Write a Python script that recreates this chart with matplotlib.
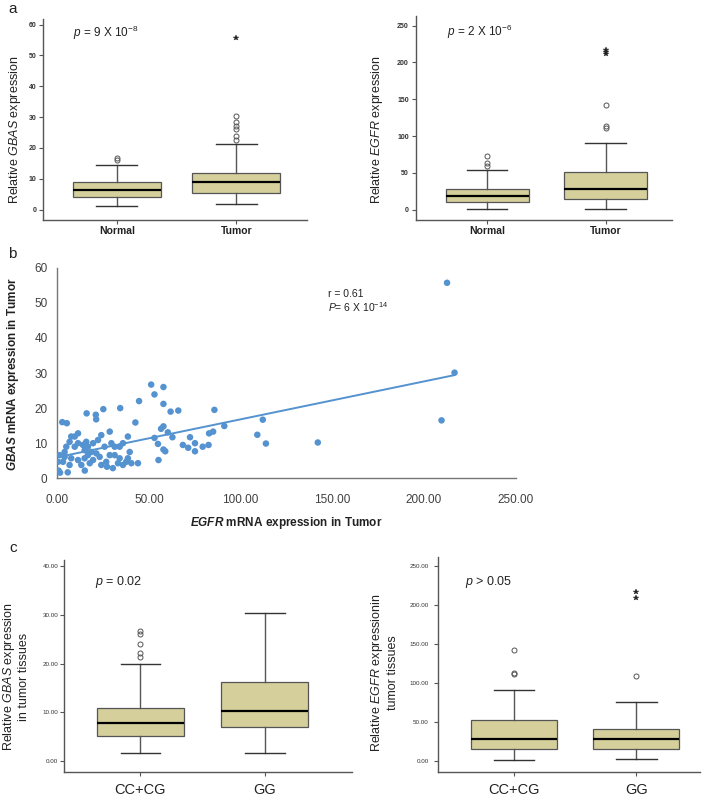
import matplotlib
matplotlib.use('Agg')
import matplotlib.pyplot as plt
import numpy as np

plt.rcParams['font.family'] = ['Liberation Sans', 'DejaVu Sans']
plt.rcParams['mathtext.fontset'] = 'custom'
plt.rcParams['mathtext.rm'] = 'Liberation Sans'
plt.rcParams['mathtext.it'] = 'Liberation Sans:italic'
plt.rcParams['mathtext.bf'] = 'Liberation Sans:bold'
try:
    plt.rcParams['mathtext.bfit'] = 'Liberation Sans:bold:italic'
except KeyError:
    pass

# ---------------- data ----------------
# panel a (left): GBAS, Normal vs Tumor  [whislo, q1, med, q3, whishi]
a_groups = ['Normal', 'Tumor']
gbas_stats = [[1.0, 4.2, 6.2, 8.9, 14.4],
              [1.7, 5.5, 8.8, 11.8, 21.4]]
gbas_outliers = [[16.2, 16.6], [22.4, 24.0, 26.2, 27.1, 28.5, 30.3]]
gbas_extremes = [[], [55.6]]

# panel a (right): EGFR, Normal vs Tumor
egfr_stats = [[0.9, 10.0, 19.0, 28.0, 53.4],
              [1.0, 15.0, 28.0, 51.6, 91.0]]
egfr_outliers = [[60.0, 63.0, 73.4], [110.5, 113.7, 141.8]]
egfr_extremes = [[], [211.0, 214.0, 217.0]]

# panel b: scatter EGFR (x) vs GBAS (y) in tumor
egfr_x = [212.6, 216.7, 209.6, 142.1, 112.1, 109.1, 113.8, 91.1, 85.7, 85.0,
          82.8, 82.5, 79.3, 75.1, 75.1, 72.4, 71.4, 68.5, 66.0, 61.8,
          62.8, 60.3, 57.9, 51.2, 53.0, 57.9, 44.6, 42.6, 57.9, 56.6,
          53.0, 54.9, 57.9, 58.9, 55.2, 34.3, 25.1, 21.0, 21.2, 16.0,
          2.7, 5.2,
          7.6, 9.5, 6.7, 4.9, 9.5, 11.3, 14.0, 16.7, 14.9, 16.7,
          18.6, 21.3, 23.1, 19.5, 14.9, 11.3, 7.6, 4.0, 3.1, 6.7,
          13.1, 17.7, 24.0, 26.7, 28.6, 31.3, 34.0, 33.1, 35.8, 37.6,
          38.5, 39.5, 40.4, 44.0, 25.8, 29.5, 31.3, 34.0, 35.8, 38.5,
          28.6, 24.0, 22.2, 19.5, 11.3, 4.0, 1.3, 0.4, 15.8,
          0.7, 1.5, 5.7, 15.0, 27.1, 30.3]
gbas_y = [55.7, 30.1, 16.5, 10.2, 16.7, 12.4, 9.9, 14.9, 19.5, 13.3,
          12.8, 9.5, 9.0, 10.0, 7.7, 11.7, 8.7, 9.5, 19.3, 19.0,
          11.7, 13.1, 26.0, 26.7, 23.9, 21.2, 22.0, 15.9, 14.8, 14.1,
          11.5, 9.8, 8.2, 7.7, 5.2, 20.0, 19.7, 18.1, 16.8, 18.5,
          16.0, 15.7,
          11.9, 11.9, 10.4, 9.0, 9.0, 10.0, 9.5, 9.0, 8.0, 6.6,
          7.5, 7.1, 6.1, 5.2, 5.7, 5.2, 5.7, 6.1, 4.7, 3.8,
          3.8, 4.3, 3.8, 4.7, 6.6, 6.6, 5.7, 4.3, 3.8, 4.7,
          5.7, 7.5, 4.3, 4.3, 9.0, 10.0, 9.0, 9.0, 10.0, 11.9,
          13.3, 12.3, 10.9, 10.0, 12.8, 7.5, 6.6, 4.7, 10.4,
          2.2, 1.6, 1.7, 2.2, 3.3, 2.9]
trend_slope = 0.108
trend_intercept = 6.0

# panel c (left): GBAS by genotype
c_groups = ['CC+CG', 'GG']
geno_gbas_stats = [[1.7, 5.1, 7.8, 11.0, 19.9],
                   [1.7, 7.0, 10.3, 16.3, 30.3]]
geno_gbas_outliers = [[21.4, 22.1, 24.0, 26.0, 26.6], []]
geno_gbas_extremes = [[], []]

# panel c (right): EGFR by genotype
geno_egfr_stats = [[0.9, 14.6, 27.8, 52.2, 90.8],
                   [2.1, 15.4, 27.4, 41.1, 74.9]]
geno_egfr_outliers = [[111.3, 113.0, 142.1], [109.2]]
geno_egfr_extremes = [[], [209.3, 217.0]]

# ---------------- figure ----------------
W, H = 709, 798
fig = plt.figure(figsize=(W / 100, H / 100), dpi=100)


def fx(px):
    return px / W


def fy(py):
    return 1 - py / H


def add_ax(x0, y_top, x1, y_bot):
    return fig.add_axes([fx(x0), fy(y_bot), fx(x1) - fx(x0), (y_bot - y_top) / H])


BOX_FC = '#D4CF9B'
EDGE = '#555555'


def draw_box(ax, stats, outs, exts, width=0.70, capw=0.34):
    st = [dict(whislo=s[0], q1=s[1], med=s[2], q3=s[3], whishi=s[4], fliers=[])
          for s in stats]
    pos = list(range(1, len(stats) + 1))
    ax.bxp(st, positions=pos, widths=width, capwidths=capw, patch_artist=True,
           showfliers=False,
           boxprops=dict(facecolor=BOX_FC, edgecolor=EDGE, linewidth=0.9),
           medianprops=dict(color='black', linewidth=1.6),
           whiskerprops=dict(color=EDGE, linewidth=1.0),
           capprops=dict(color='#333333', linewidth=1.0))
    for p, o in zip(pos, outs):
        if o:
            ax.plot([p] * len(o), o, 'o', mfc='none', mec='#555555', ms=3.6, mew=0.7)
    for p, e in zip(pos, exts):
        if e:
            ax.plot([p] * len(e), e, '*', color='#222222', ms=3.8, mew=0.3)
    for s in ['top', 'right']:
        ax.spines[s].set_visible(False)
    for s in ['left', 'bottom']:
        ax.spines[s].set_color(EDGE)
        ax.spines[s].set_linewidth(1.0)
    ax.tick_params(colors=EDGE, length=3, width=0.8)


# ---- panel a left ----
ax1 = add_ax(43.3, 19.3, 306.7, 220)
draw_box(ax1, gbas_stats, gbas_outliers, gbas_extremes, width=0.74, capw=0.34)
ax1.set_xlim(0.385, 2.59)
ax1.set_ylim(-3.4, 61.7)
ax1.set_yticks(np.arange(0, 61, 10))
ax1.set_xticks([1, 2])
ax1.set_xticklabels(a_groups, fontsize=7.5, fontweight='bold', color='#222222')
ax1.tick_params(axis='y', labelsize=5, labelcolor='#333333', pad=2)
ax1.tick_params(axis='x', pad=1.5)
for lab in ax1.get_yticklabels():
    lab.set_fontweight('bold')

# ---- panel a right ----
ax2 = add_ax(415.7, 16, 671.7, 220)
draw_box(ax2, egfr_stats, egfr_outliers, egfr_extremes, width=0.70, capw=0.34)
ax2.set_xlim(0.394, 2.56)
ax2.set_ylim(-14, 263)
ax2.set_yticks(np.arange(0, 251, 50))
ax2.set_xticks([1, 2])
ax2.set_xticklabels(a_groups, fontsize=7.5, fontweight='bold', color='#222222')
ax2.tick_params(axis='y', labelsize=5, labelcolor='#333333', pad=2)
ax2.tick_params(axis='x', pad=1.5)
for lab in ax2.get_yticklabels():
    lab.set_fontweight('bold')

# ---- panel b ----
ax3 = add_ax(57.3, 267.7, 515.6, 478.3)
DOT = '#5492D0'
ax3.scatter(egfr_x, gbas_y, s=22, color=DOT, edgecolors='none', zorder=3)
xx = np.array([min(egfr_x), max(egfr_x)])
ax3.plot(xx, trend_intercept + trend_slope * xx, color=DOT, linewidth=1.4, zorder=2)
ax3.set_xlim(0, 250)
ax3.set_ylim(0, 60)
ax3.set_xticks(np.arange(0, 251, 50))
ax3.set_xticklabels(['%.2f' % v for v in np.arange(0, 251, 50)])
ax3.set_yticks(np.arange(0, 61, 10))
for s in ['top', 'right']:
    ax3.spines[s].set_visible(False)
for s in ['left', 'bottom']:
    ax3.spines[s].set_color('#777777')
    ax3.spines[s].set_linewidth(1.0)
ax3.spines['bottom'].set_clip_on(False)
ax3.tick_params(length=0, labelsize=8.5, labelcolor='#404040')
ax3.tick_params(axis='x', pad=11)
ax3.tick_params(axis='y', pad=7)

# ---- panel c left ----
ax4 = add_ax(64, 560, 352, 771.7)
draw_box(ax4, geno_gbas_stats, geno_gbas_outliers, geno_gbas_extremes, width=0.70, capw=0.32)
ax4.set_xlim(0.386, 2.7)
ax4.set_ylim(-2.13, 41.2)
ax4.set_yticks(np.arange(0, 41, 10))
ax4.set_yticklabels(['%.2f' % v for v in np.arange(0, 41, 10)])
ax4.set_xticks([1, 2])
ax4.set_xticklabels(c_groups, fontsize=10.5, color='#222222')
ax4.tick_params(axis='y', labelsize=4.5, labelcolor='#333333', pad=1.2)
ax4.tick_params(axis='x', pad=5)

# ---- panel c right ----
ax5 = add_ax(438.3, 556.7, 700, 771.7)
draw_box(ax5, geno_egfr_stats, geno_egfr_outliers, geno_egfr_extremes, width=0.70, capw=0.33)
ax5.set_xlim(0.384, 2.52)
ax5.set_ylim(-14.1, 262)
ax5.set_yticks(np.arange(0, 251, 50))
ax5.set_yticklabels(['%.2f' % v for v in np.arange(0, 251, 50)])
ax5.set_xticks([1, 2])
ax5.set_xticklabels(c_groups, fontsize=10.5, color='#222222')
ax5.tick_params(axis='y', labelsize=4.5, labelcolor='#333333', pad=4)
ax5.tick_params(axis='x', pad=5)

# ---------------- texts ----------------
TXT = '#222222'
fig.text(fx(8), fy(9), 'a', fontsize=11, color=TXT, ha='left', va='center')
fig.text(fx(8), fy(254), 'b', fontsize=11, color=TXT, ha='left', va='center')
fig.text(fx(9), fy(548), 'c', fontsize=11, color=TXT, ha='left', va='center')

fig.text(fx(15), fy(130), r'Relative $\mathit{GBAS}$ expression', rotation=90,
         ha='center', va='center', fontsize=9, color=TXT)
fig.text(fx(377), fy(130), r'Relative $\mathit{EGFR}$ expression', rotation=90,
         ha='center', va='center', fontsize=9, color=TXT)
fig.text(fx(73), fy(33), r'$p$ = 9 X 10$^{-8}$', ha='left', va='center',
         fontsize=8.5, color=TXT)
fig.text(fx(447), fy(32), r'$p$ = 2 X 10$^{-6}$', ha='left', va='center',
         fontsize=8.5, color=TXT)

fig.text(fx(13.5), fy(374), r'$\mathbfit{GBAS}$ mRNA expression in Tumor', rotation=90,
         ha='center', va='center', fontsize=8.5, fontweight='bold', color=TXT)
fig.text(fx(286), fy(523), r'$\mathbfit{EGFR}$ mRNA expression in Tumor',
         ha='center', va='center', fontsize=8.5, fontweight='bold', color=TXT)
fig.text(fx(328), fy(294), 'r = 0.61', ha='left', va='center', fontsize=7.5, color=TXT)
fig.text(fx(328), fy(307), r'$P$= 6 X 10$^{-14}$', ha='left', va='center',
         fontsize=7.5, color=TXT)

fig.text(fx(15.5), fy(677), 'Relative $\\mathit{GBAS}$ expression\nin tumor tissues',
         rotation=90, ha='center', va='center', multialignment='center',
         fontsize=9, color=TXT, linespacing=1.2)
fig.text(fx(384), fy(673), 'Relative $\\mathit{EGFR}$ expressionin\ntumor tissues',
         rotation=90, ha='center', va='center', multialignment='center',
         fontsize=9, color=TXT, linespacing=1.2)
fig.text(fx(95), fy(582), r'$p$ = 0.02', ha='left', va='center', fontsize=9, color=TXT)
fig.text(fx(465), fy(582), r'$p$ > 0.05', ha='left', va='center', fontsize=9, color=TXT)

fig.savefig('out.png', dpi=100)
